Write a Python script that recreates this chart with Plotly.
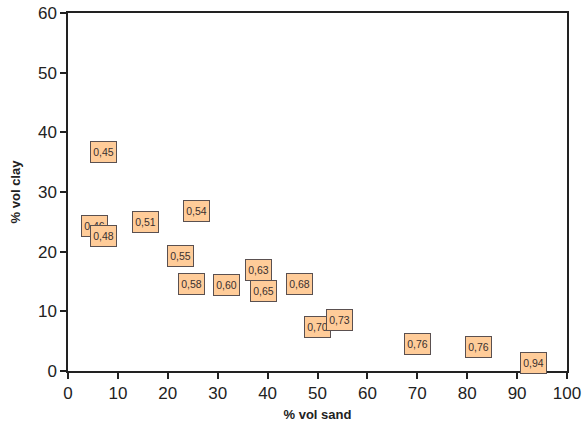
import plotly.graph_objects as go

sand = [7.2, 5.4, 7.2, 15.6, 25.7, 22.6, 24.8, 31.7, 38.1, 39.1, 46.3, 49.9, 54.5, 70.1, 82.2, 93.2]
clay = [36.7, 24.3, 22.6, 25.0, 26.8, 19.3, 14.6, 14.4, 16.9, 13.4, 14.6, 7.4, 8.5, 4.5, 4.0, 1.3]
labels = ["0,45", "0,46", "0,48", "0,51", "0,54", "0,55", "0,58", "0,60", "0,63", "0,65",
          "0,68", "0,70", "0,73", "0,76", "0,76", "0,94"]

x_ticks = [0, 10, 20, 30, 40, 50, 60, 70, 80, 90, 100]
y_ticks = [0, 10, 20, 30, 40, 50, 60]

FONT = "Liberation Sans, Arial, sans-serif"

fig = go.Figure()
fig.add_trace(go.Scatter(x=sand, y=clay, mode="markers", marker=dict(opacity=0),
                         hoverinfo="skip", showlegend=False))

for xv, yv, lab in zip(sand, clay, labels):
    fig.add_annotation(x=xv, y=yv, xref="x", yref="y", text=lab, showarrow=False,
                       font=dict(family=FONT, size=10.5, color="#3a3030"),
                       bgcolor="#FFCC99", bordercolor="#5a5050", borderwidth=1,
                       width=23, height=18, align="center", valign="middle", borderpad=1)

axis_common = dict(showgrid=False, zeroline=False, showline=True, linecolor="#222",
                   linewidth=1.5, mirror=True, ticks="outside", ticklen=6, tickwidth=1.5,
                   tickcolor="#222", automargin=False,
                   tickfont=dict(family=FONT, size=17, color="#222"))

fig.update_xaxes(range=[0, 100], tickvals=x_ticks,
                 title=dict(text="<b>% vol sand</b>", standoff=8,
                            font=dict(family=FONT, size=13, color="#222")),
                 **axis_common)
fig.update_yaxes(range=[0, 60], tickvals=y_ticks,
                 title=dict(text="<b>% vol clay</b>", standoff=14,
                            font=dict(family=FONT, size=13, color="#222")),
                 **axis_common)

fig.update_layout(width=585, height=427, margin=dict(l=68, r=18, t=13, b=56, autoexpand=False),
                  plot_bgcolor="white", paper_bgcolor="white", showlegend=False)

fig.write_html("out.html")
